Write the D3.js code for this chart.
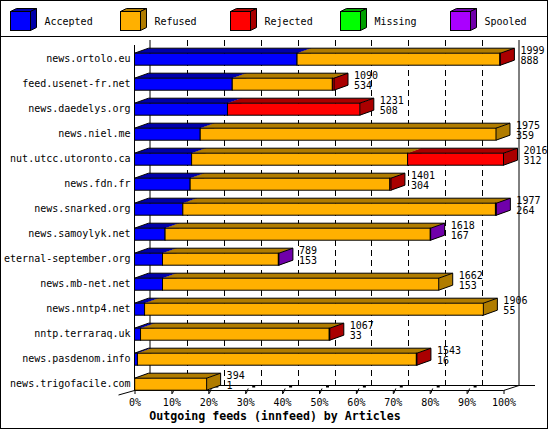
<!DOCTYPE html>
<html>
<head>
<meta charset="utf-8">
<script src="https://cdn.jsdelivr.net/npm/d3@7"></script>
<style>
  body { margin: 0; background: #fff; }
  text { font-family: "DejaVu Sans Mono", monospace; }
</style>
</head>
<body>
<script>
// ---------- data ----------
const categories = ["news.ortolo.eu","feed.usenet-fr.net","news.daedelys.org","news.niel.me",
  "nut.utcc.utoronto.ca","news.fdn.fr","news.snarked.org","news.samoylyk.net",
  "eternal-september.org","news.mb-net.net","news.nntp4.net","nntp.terraraq.uk",
  "news.pasdenom.info","news.trigofacile.com"];
const accepted = [888,534,508,359,312,304,264,167,153,153,55,33,16,1];
const refused  = [1108,547,0,1616,1180,1091,1708,1449,633,1509,1851,1031,1524,393];
const rejected = [3,9,723,0,524,6,3,0,0,0,0,3,3,0];
const missing  = [0,0,0,0,0,0,0,0,0,0,0,0,0,0];
const spooled  = [0,0,0,0,0,0,2,2,3,0,0,0,0,0];
const seriesNames = ["Accepted","Refused","Rejected","Missing","Spooled"];
const seriesColors = ["#0000ff","#ffb000","#ff0000","#00ff00","#aa00ff"];
const seriesDark   = ["#0000aa","#b07c00","#aa0000","#00a000","#7000aa"];
const tickPercents = [0,10,20,30,40,50,60,70,80,90,100];
const xTitle = "Outgoing feeds (innfeed) by Articles";

const series = [accepted, refused, rejected, missing, spooled];
const totals = categories.map((c,i) => series.reduce((s,a)=>s+a[i],0));
const maxTotal = d3.max(totals);

// ---------- setup ----------
const W = 550, H = 430;
const svg = d3.select("body").append("svg").attr("width", W).attr("height", H);

const x0 = 134.5, x1 = 503.5;     // front plane
const gdx = 15.5, gdy = 5;        // back-wall offset
const bdx = 14, bdy = 5;          // bar depth
const yTopBack = 40, yFloor = 390;

const xPct = d3.scaleLinear().domain([0,100]).range([x0, x1]);
const x = v => xPct(v / maxTotal * 100);
const y = d3.scaleBand().domain(categories).range([46.7, 396.7]).paddingInner(0).paddingOuter(0);
const cy = c => y(c) + y.bandwidth()/2;

// border
svg.append("rect").attr("x",0.5).attr("y",0.5).attr("width",547).attr("height",428)
  .attr("fill","#fff").attr("stroke","#000");
svg.append("line").attr("x1",0).attr("x2",548).attr("y1",36.5).attr("y2",36.5).attr("stroke","#000");

// legend
seriesNames.forEach((n,i) => {
  const lx = 10.5 + i*110, ly = 11.5;
  const g = svg.append("g");
  g.append("polygon").attr("points", [[lx,ly],[lx+20,ly],[lx+26,ly-3],[lx+6,ly-3]].join(" "))
    .attr("fill", seriesDark[i]).attr("stroke","#000");
  g.append("polygon").attr("points", [[lx+20,ly],[lx+26,ly-3],[lx+26,ly+16],[lx+20,ly+19]].join(" "))
    .attr("fill", seriesDark[i]).attr("stroke","#000");
  g.append("rect").attr("x",lx).attr("y",ly).attr("width",20).attr("height",19)
    .attr("fill", seriesColors[i]).attr("stroke","#000");
  g.append("text").attr("x", lx+34).attr("y", 24.5).attr("font-size","10px").attr("fill","#000").text(n);
});

// back wall lines
svg.append("line").attr("x1",x0+gdx).attr("x2",x0+gdx).attr("y1",yTopBack).attr("y2",yFloor-gdy).attr("stroke","#000");
svg.append("line").attr("x1",x1+gdx).attr("x2",x1+gdx).attr("y1",yTopBack).attr("y2",yFloor-gdy).attr("stroke","#000");
// dashed grid
tickPercents.filter(p => p>0 && p<100).forEach(p => {
  const gx = Math.round(xPct(p)+gdx)+0.5;
  svg.append("line").attr("x1",gx).attr("x2",gx).attr("y1",yTopBack).attr("y2",yFloor-gdy)
    .attr("stroke","#000").attr("stroke-dasharray","6,4");
});
// floor lines
svg.append("line").attr("x1",x0+gdx).attr("x2",535).attr("y1",yFloor-gdy+0.5).attr("y2",yFloor-gdy+0.5).attr("stroke","#000");
svg.append("polyline").attr("points",[[x0-16,yFloor+5],[x0,yFloor+0.5],[x1,yFloor+0.5],[x1+gdx,yFloor-gdy+0.5]].join(" "))
  .attr("fill","none").attr("stroke","#000");
// little 3D tick marks
tickPercents.filter(p => p>0 && p<100).forEach(p => {
  const fx = xPct(p);
  svg.append("line").attr("x1",fx+1).attr("y1",393.5).attr("x2",fx+3).attr("y2",388.5).attr("stroke","#000");
  svg.append("rect").attr("x",fx+7).attr("y",385.5).attr("width",3).attr("height",2).attr("fill","#000");
});
// front left axis
svg.append("line").attr("x1",x0).attr("x2",x0).attr("y1",45).attr("y2",yFloor).attr("stroke","#000");

// x axis ticks/labels
const xAxis = d3.axisBottom(xPct).tickValues(tickPercents).tickFormat(d => d + "%").tickSize(4).tickPadding(5);
const gx = svg.append("g").attr("transform", `translate(0,${yFloor})`).call(xAxis);
gx.select(".domain").remove();
gx.selectAll("text").attr("font-family","DejaVu Sans Mono").attr("font-size","10px").attr("fill","#000");
gx.selectAll("line").attr("stroke","#000");

// y axis labels
const yAxis = d3.axisLeft(y).tickSize(0).tickPadding(4);
const gy = svg.append("g").attr("transform", `translate(${x0},0)`).call(yAxis);
gy.select(".domain").remove();
gy.selectAll("text").attr("font-family","DejaVu Sans Mono").attr("font-size","10px").attr("fill","#000");

// bars
categories.forEach((cat, i) => {
  const c = cy(cat);
  const top = c - 6, bot = c + 6;
  const g = svg.append("g");
  let acc = 0;
  series.forEach((arr, s) => {
    const v = arr[i];
    if (v <= 0) return;
    const xa = x(acc), xb = x(acc + v);
    acc += v;
    g.append("polygon").attr("points",[[xa,top],[xb,top],[xb+bdx,top-bdy],[xa+bdx,top-bdy]].join(" "))
      .attr("fill", seriesDark[s]);
    g.append("polygon").attr("points",[[xb,top],[xb+bdx,top-bdy],[xb+bdx,bot-bdy],[xb,bot]].join(" "))
      .attr("fill", seriesDark[s]);
    g.append("rect").attr("x",xa).attr("y",top).attr("width",Math.max(xb-xa,0.01)).attr("height",bot-top)
      .attr("fill", seriesColors[s]).attr("stroke","#000");
  });
  const xs = x(0), xe = x(totals[i]);
  g.append("path").attr("d",
      `M${xs},${top}L${xs+bdx},${top-bdy}L${xe+bdx},${top-bdy}L${xe+bdx},${bot-bdy}L${xe},${bot}M${xe},${top}L${xe+bdx},${top-bdy}`)
    .attr("fill","none").attr("stroke","#000");
  // value labels
  const lx = xe + bdx + 6;
  svg.append("text").attr("x",lx).attr("y",c-5.5).attr("font-size","10px").attr("fill","#000").text(totals[i]);
  svg.append("text").attr("x",lx).attr("y",c+4.5).attr("font-size","10px").attr("fill","#000").text(accepted[i]);
});

// axis title
svg.append("text").attr("x",275).attr("y",420).attr("text-anchor","middle")
  .attr("font-size","11.6px").attr("font-weight","bold").attr("fill","#000").text(xTitle);
</script>
</body>
</html>
